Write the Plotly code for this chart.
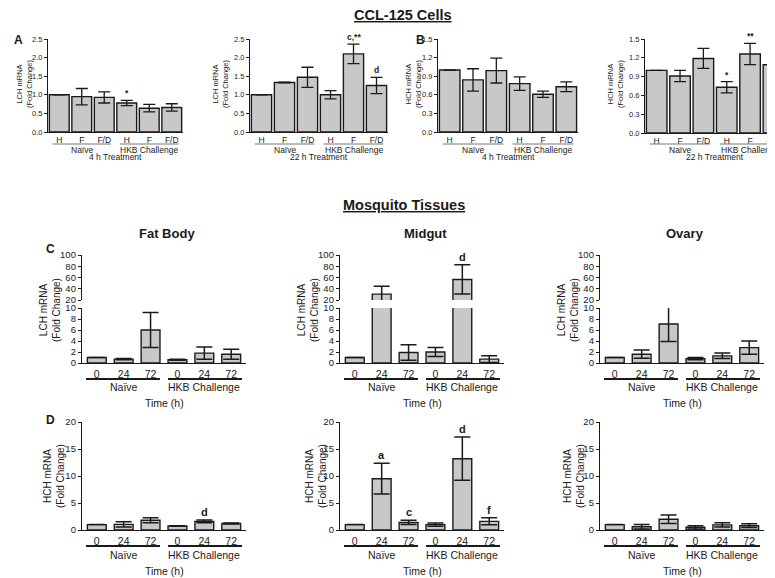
import plotly.graph_objects as go

# ---------------- data ----------------
treat_cats = ["H", "F", "F/D", "H", "F", "F/D"]
time_cats = ["0", "24", "72", "0", "24", "72"]
group_names = ["Naïve", "HKB Challenge"]
treat_names = ["4 h Treatment", "22 h Treatment"]
tissue_names = ["Fat Body", "Midgut", "Ovary"]

# CCL-125 cells
lch_4h = [1.00, 0.95, 0.93, 0.78, 0.64, 0.66]
lch_4h_err = [0.00, 0.22, 0.15, 0.07, 0.10, 0.10]
lch_4h_sig = ["", "", "", "*", "", ""]
lch_22h = [1.00, 1.33, 1.47, 1.00, 2.10, 1.25]
lch_22h_err = [0.00, 0.01, 0.27, 0.11, 0.26, 0.22]
lch_22h_sig = ["", "", "", "", "c,**", "d"]
hch_4h = [1.00, 0.84, 0.99, 0.78, 0.61, 0.73]
hch_4h_err = [0.00, 0.18, 0.20, 0.11, 0.05, 0.08]
hch_4h_sig = ["", "", "", "", "", ""]
hch_22h = [1.00, 0.91, 1.19, 0.73, 1.26, 1.09]
hch_22h_err = [0.00, 0.09, 0.16, 0.09, 0.17, 0.20]
hch_22h_sig = ["", "", "", "*", "**", ""]

# Mosquito tissues, LCH
fat_lch = [1.0, 0.7, 6.0, 0.6, 1.8, 1.6]
fat_lch_err = [0.0, 0.1, 3.2, 0.1, 1.1, 0.9]
fat_lch_sig = ["", "", "", "", "", ""]
mid_lch = [1.0, 30.5, 1.9, 2.0, 56.5, 0.7]
mid_lch_err = [0.0, 14.0, 1.4, 0.8, 26.0, 0.6]
mid_lch_sig = ["", "", "", "", "d", ""]
ova_lch = [1.0, 1.6, 7.1, 0.8, 1.3, 2.8]
ova_lch_err = [0.0, 0.75, 3.2, 0.2, 0.5, 1.2]
ova_lch_sig = ["", "", "", "", "", ""]
# Mosquito tissues, HCH
fat_hch = [1.0, 1.05, 1.8, 0.75, 1.6, 1.2]
fat_hch_err = [0.0, 0.5, 0.45, 0.05, 0.25, 0.1]
fat_hch_sig = ["", "", "", "", "d", ""]
mid_hch = [1.0, 9.5, 1.4, 1.0, 13.2, 1.6]
mid_hch_err = [0.0, 2.85, 0.4, 0.3, 4.0, 0.65]
mid_hch_sig = ["", "a", "c", "", "d", "f"]
ova_hch = [1.0, 0.6, 2.0, 0.5, 0.95, 0.8]
ova_hch_err = [0.0, 0.4, 0.8, 0.3, 0.4, 0.35]
ova_hch_sig = ["", "", "", "", "", ""]

# ---------------- layout helpers ----------------
W, H = 775, 578
OFF = 8  # page body margin offset
FONT = "Arial, 'Liberation Sans', sans-serif"
BAR = "#c8c8c8"
INK = "#1a1a1a"


def fx(p):
    return (p - OFF) / W


def fy(p):
    return 1 - (p - OFF) / H


fig = go.Figure()
layout = {}
annotations = []
shapes = []
cnt = {"x": 0, "y": 0}


def new_ax(kind):
    cnt[kind] += 1
    i = cnt[kind]
    name = kind + "axis" + ("" if i == 1 else str(i))
    ref = kind + ("" if i == 1 else str(i))
    return name, ref


def ann(text, x, y, size, bold=False, angle=0, xref="paper", yref="paper",
        xanchor="center", yanchor="middle", yshift=0):
    if bold:
        text = "<b>" + text + "</b>"
    annotations.append(dict(text=text, x=x, y=y, xref=xref, yref=yref,
                            xanchor=xanchor, yanchor=yanchor, yshift=yshift,
                            showarrow=False, textangle=angle,
                            font=dict(size=size, family=FONT, color=INK)))


def panel(xd, segs, cats, vals, errs, sigs, xr, top, ylab, ylab_x, ylab_y,
          line_y, grp_y, sub_text, sub_y):
    xname, xref = new_ax("x")
    yrefs = []
    for k, (t, b, rng, dt) in enumerate(segs):
        yname, yref = new_ax("y")
        yrefs.append((yref, rng))
        layout[yname] = dict(
            domain=[fy(b), fy(t)], range=rng, dtick=dt, tick0=rng[0],
            tickformat=".1f" if top else "d", anchor=xref, automargin=False,
            showline=True, linecolor=INK, linewidth=1 if top else 1.3,
            ticks="outside", ticklen=3, tickwidth=1, tickcolor=INK,
            showgrid=False, zeroline=False, fixedrange=True,
            tickfont=dict(size=7.5 if top else 9.5, family=FONT, color=INK))
        fig.add_trace(go.Bar(
            x=list(range(len(vals))), y=vals, xaxis=xref, yaxis=yref,
            width=0.88 if top else 0.7,
            marker=dict(color=BAR, line=dict(color=INK, width=1.4)),
            error_y=dict(type="data", array=errs, visible=True,
                         color=INK, thickness=1.3 if top else 1.5,
                         width=6 if top else 8),
            hoverinfo="skip"))
    layout[xname] = dict(
        domain=[fx(xd[0]), min(1.0, fx(xd[1]))], range=xr, anchor=yrefs[0][0],
        tickvals=list(range(len(cats))), ticktext=cats, automargin=False,
        showline=True, linecolor=INK, linewidth=1 if top else 1.3,
        ticks="", showgrid=False, zeroline=False, fixedrange=True,
        ticklabelstandoff=0 if top else 1,
        tickfont=dict(size=8.5 if top else 10.5, family=FONT, color=INK))
    # significance letters
    for i, s in enumerate(sigs):
        if not s:
            continue
        yv = vals[i] + errs[i]
        yr = yrefs[0][0]
        if len(yrefs) > 1 and yv > yrefs[0][1][1]:
            yr = yrefs[1][0]
        ann(s, i, yv, 8.5 if top else 11, bold=True, xref=xref, yref=yr,
            yanchor="bottom", yshift=0)
    # y label
    ann(ylab + "<br>(Fold Change)", fx(ylab_x), fy(ylab_y), 7.5 if top else 10,
        angle=-90)
    # group lines and labels
    spans = [(-0.3, 2.3), (2.7, 5.3)] if top else [(-0.4, 2.35), (2.65, 5.4)]
    for (a, b) in spans:
        shapes.append(dict(type="line", xref=xref, yref="paper", x0=a, x1=b,
                           y0=fy(line_y), y1=fy(line_y),
                           line=dict(color="#777" if top else INK,
                                     width=1 if top else 2)))
    ann(group_names[0], 1, fy(grp_y), 8.5 if top else 10.5, xref=xref)
    ann(group_names[1], 4, fy(grp_y), 8.5 if top else 10.5, xref=xref)
    ann(sub_text, 2.5, fy(sub_y), 8.5 if top else 10.5, xref=xref)


# ---------------- top row: CCL-125 cells ----------------
TOP_SEG = lambda rng, dt, b=132: [(39, b, rng, dt)]
panel((48, 183), TOP_SEG([0, 2.5], 0.5), treat_cats, lch_4h, lch_4h_err,
      lch_4h_sig, [-0.5, 5.5], True, "LCH mRNA", 24, 84, 144, 150,
      treat_names[0], 157)
panel((250, 388), TOP_SEG([0, 2.5], 0.5), treat_cats, lch_22h, lch_22h_err,
      lch_22h_sig, [-0.5, 5.5], True, "LCH mRNA", 220, 84, 144, 150,
      treat_names[1], 157)
panel((438, 578), TOP_SEG([0, 1.5], 0.3), treat_cats, hch_4h, hch_4h_err,
      hch_4h_sig, [-0.5, 5.5], True, "HCH mRNA", 413, 84, 144, 150,
      treat_names[0], 157)
panel((645, 783), TOP_SEG([0, 1.5], 0.3, 133), treat_cats, hch_22h, hch_22h_err,
      hch_22h_sig, [-0.5, 5.41], True, "HCH mRNA", 615, 84, 144, 150,
      treat_names[1], 157)

# ---------------- mosquito tissues ----------------
C_SEG = [(308, 363, [0, 10], 2), (255, 300, [20, 100], 20)]
D_SEG = [(422, 530, [0, 20], 5)]
XR = [-0.55, 5.55]
c_data = [(fat_lch, fat_lch_err, fat_lch_sig), (mid_lch, mid_lch_err, mid_lch_sig),
          (ova_lch, ova_lch_err, ova_lch_sig)]
d_data = [(fat_hch, fat_hch_err, fat_hch_sig), (mid_hch, mid_hch_err, mid_hch_sig),
          (ova_hch, ova_hch_err, ova_hch_sig)]
x_doms = [(82, 246), (340, 504), (600, 764)]
c_lab_x = [50, 308, 568]
d_lab_x = [54, 316, 574]
for j in range(3):
    v, e, s = c_data[j]
    panel(x_doms[j], C_SEG, time_cats, v, e, s, XR, False, "LCH mRNA",
          c_lab_x[j], 310, 379, 387, "Time (h)", 403)
    v, e, s = d_data[j]
    panel(x_doms[j], D_SEG, time_cats, v, e, s, XR, False, "HCH mRNA",
          d_lab_x[j], 476, 546, 555, "Time (h)", 571)
    ann(tissue_names[j], fx((x_doms[j][0] + x_doms[j][1]) / 2 + 3), fy(233), 13,
        bold=True)

# ---------------- titles & panel letters ----------------
ann("<u>CCL-125 Cells</u>", fx(403), fy(15), 14.5, bold=True)
ann("<u>Mosquito Tissues</u>", fx(404), fy(205), 14.5, bold=True)
ann("A", fx(18), fy(40), 12, bold=True)
ann("B", fx(420), fy(40), 12, bold=True)
ann("C", fx(50), fy(249), 12, bold=True)
ann("D", fx(50), fy(420), 12, bold=True)

fig.update_layout(
    template="none",
    width=W, height=H, margin=dict(l=0, r=0, t=0, b=0, autoexpand=False),
    paper_bgcolor="white", plot_bgcolor="rgba(0,0,0,0)",
    showlegend=False, font=dict(family=FONT, color=INK),
    annotations=annotations, shapes=shapes, **layout)

fig.write_html("out.html")
